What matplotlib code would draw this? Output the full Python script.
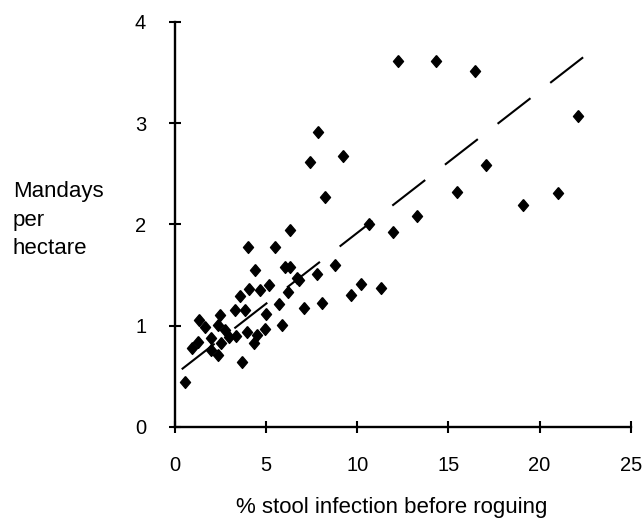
import matplotlib
matplotlib.use("Agg")
import matplotlib.pyplot as plt

# % stool infection before roguing vs mandays per hectare
infection = [0.55, 0.95, 1.25, 1.34, 1.65, 1.98, 1.98, 2.38, 2.38, 2.47,
             2.53, 2.75, 2.97, 3.30, 3.35, 3.57, 3.66, 3.85, 3.99, 3.97,
             4.07, 4.41, 4.34, 4.49, 4.67, 4.98, 4.95, 5.13, 5.49, 5.68,
             5.86, 6.19, 6.32, 6.04, 6.32, 6.69, 6.78, 7.05, 7.42, 7.86,
             8.24, 9.23, 7.78, 8.09, 8.79, 9.67, 10.2, 10.62, 11.3, 11.94,
             12.25, 13.3, 14.34, 15.47, 16.45, 17.05, 19.08, 21.0, 22.1]
mandays = [0.44, 0.78, 0.84, 1.06, 0.99, 0.88, 0.76, 0.71, 1.01, 1.11,
           0.83, 0.96, 0.89, 1.15, 0.90, 1.29, 0.64, 1.15, 1.78, 0.94,
           1.36, 1.55, 0.83, 0.91, 1.35, 1.12, 0.97, 1.40, 1.78, 1.21,
           1.01, 1.33, 1.94, 1.58, 1.58, 1.47, 1.45, 1.17, 2.62, 2.91,
           2.27, 2.67, 1.51, 1.22, 1.60, 1.30, 1.41, 2.00, 1.37, 1.92,
           3.61, 2.08, 3.61, 2.32, 3.51, 2.59, 2.19, 2.31, 3.07]

# fitted line end points
line_x = [0.37, 22.4]
line_y = [0.57, 3.65]

x_ticks = [0, 5, 10, 15, 20, 25]
y_ticks = [0, 1, 2, 3, 4]
ylabel_lines = ["Mandays", "per", "hectare"]
xlabel = "% stool infection before roguing"

plt.rcParams['font.family'] = ['Liberation Sans', 'DejaVu Sans']

fig = plt.figure(figsize=(6.43, 5.18), dpi=100)
ax = fig.add_axes([175 / 643, 1 - 427 / 518, 455.7 / 643, 405.3 / 518])

diamond = [(0, 1), (0.85, 0), (0, -1), (-0.85, 0), (0, 1)]
ax.plot(infection, mandays, linestyle='none', marker=diamond,
        markersize=8.5, color='black', clip_on=False)
ax.plot(line_x, line_y, color='black', linewidth=1.5,
        linestyle=(0, (20, 12)), dash_capstyle='butt')

ax.set_xlim(0, 25)
ax.set_ylim(0, 4)
ax.set_xticks(x_ticks)
ax.set_yticks(y_ticks)
for side in ['top', 'right']:
    ax.spines[side].set_visible(False)
for side in ['left', 'bottom']:
    ax.spines[side].set_linewidth(1.7)
ax.tick_params(direction='inout', length=8.5, width=1.5, labelsize=14.5,
               pad=16.5)

for i, txt in enumerate(ylabel_lines):
    fig.text(13 / 643, 1 - (197.5 + 28.3 * i) / 518, txt, fontsize=16,
             ha='left', va='baseline')
fig.text(391.7 / 643, 1 - 513 / 518, xlabel, fontsize=16,
         ha='center', va='baseline')

fig.savefig("out.png", dpi=100)
